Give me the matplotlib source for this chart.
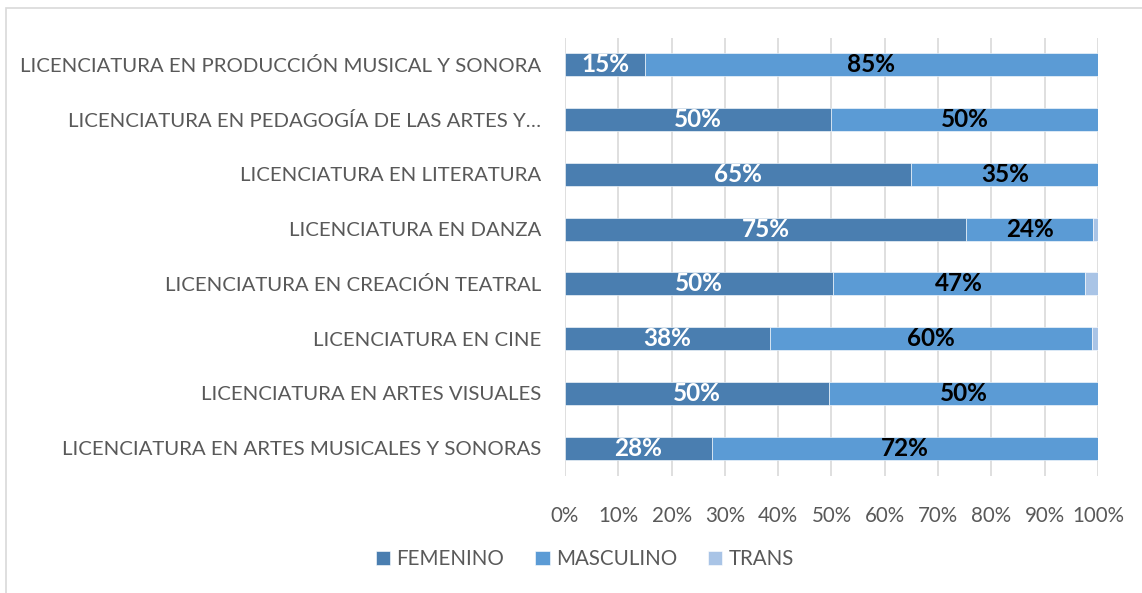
import matplotlib
matplotlib.use('Agg')
import matplotlib.pyplot as plt
from matplotlib.patches import Rectangle
import numpy as np

carreras = [
    "LICENCIATURA EN PRODUCCIÓN MUSICAL Y SONORA",
    "LICENCIATURA EN PEDAGOGÍA DE LAS ARTES Y…",
    "LICENCIATURA EN LITERATURA",
    "LICENCIATURA EN DANZA",
    "LICENCIATURA EN CREACIÓN TEATRAL",
    "LICENCIATURA EN CINE",
    "LICENCIATURA EN ARTES VISUALES",
    "LICENCIATURA EN ARTES MUSICALES Y SONORAS",
]
femenino = [15.0, 50.0, 65.0, 75.3, 50.2, 38.4, 49.6, 27.6]
masculino = [85.0, 50.0, 35.0, 23.8, 47.3, 60.4, 50.4, 72.4]
trans = [0.0, 0.0, 0.0, 0.9, 2.5, 1.2, 0.0, 0.0]

series = [
    ("FEMENINO", femenino, "#4a7eb0", "white"),
    ("MASCULINO", masculino, "#5b9bd5", "black"),
    ("TRANS", trans, "#a9c4e6", None),
]

plt.rcParams['font.family'] = ['Lato', 'DejaVu Sans']
gris = "#595959"

fig = plt.figure(figsize=(11.42, 5.93), dpi=100)
ax = fig.add_axes([0.4947, 0.1981, 0.4668, 0.7385])

y = np.arange(len(carreras))[::-1]
left = np.zeros(len(carreras))
for nombre, vals, color, txt in series:
    vals = np.array(vals)
    bars = ax.barh(y, vals, left=left, height=0.42, color=color,
                   edgecolor="white", linewidth=0.4, label=nombre, zorder=2)
    if txt is not None:
        for b, v in zip(bars, vals):
            ax.text(b.get_x() + b.get_width() / 2, b.get_y() + b.get_height() / 2,
                    f"{v:.0f}%", ha="center", va="center", color=txt,
                    fontsize=17.5, fontweight="bold", zorder=3)
    left += vals

ax.set_xlim(0, 100)
ax.set_ylim(-0.5, len(carreras) - 0.5)
ax.set_xticks(np.arange(0, 101, 10))
ax.set_xticklabels([f"{t}%" for t in range(0, 101, 10)])
ax.set_yticks(y)
ax.set_yticklabels(carreras)
ax.tick_params(axis="x", length=0, pad=22, labelsize=14.8, labelcolor=gris)
ax.tick_params(axis="y", length=0, pad=17, labelsize=14.7, labelcolor=gris)
ax.grid(axis="x", color="#d9d9d9", linewidth=1.2, zorder=0)
for s in ax.spines.values():
    s.set_visible(False)

fig.legend(loc="center", bbox_to_anchor=(0.512, 0.057), ncol=3, frameon=False,
           fontsize=14.8, labelcolor=gris, handlelength=0.7, handleheight=0.7,
           handletextpad=0.3, columnspacing=1.5, borderaxespad=0)

fig.patches.append(Rectangle((0.005, -0.1), 1.2, 1.086, transform=fig.transFigure,
                             fill=False, edgecolor="#d9d9d9", linewidth=1.2))

fig.savefig("out.png", dpi=100)
